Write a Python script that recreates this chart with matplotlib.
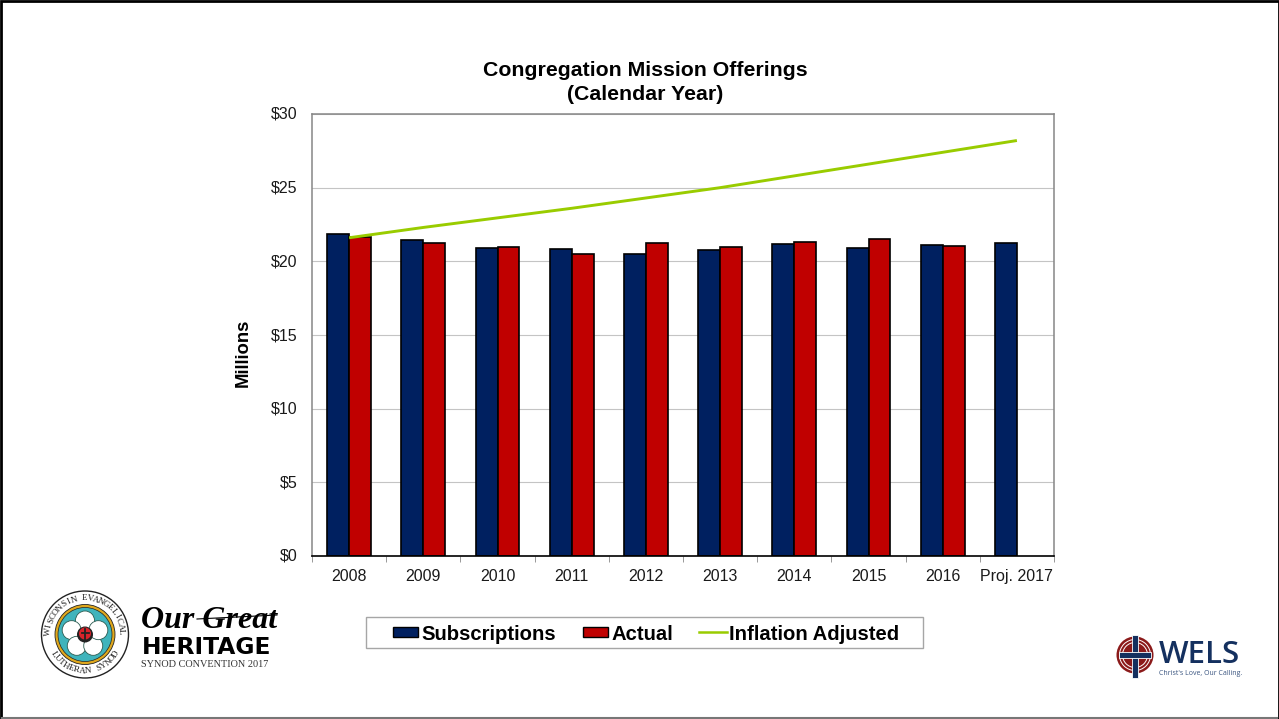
import numpy as np
import matplotlib
matplotlib.use('Agg')
import matplotlib.pyplot as plt
from matplotlib.patches import Rectangle, Circle, Wedge
from matplotlib.lines import Line2D
from matplotlib.transforms import ScaledTranslation

plt.rcParams['font.family'] = ['Liberation Sans', 'DejaVu Sans']

years = ['2008', '2009', '2010', '2011', '2012', '2013', '2014', '2015', '2016', 'Proj. 2017']
subscriptions = [21.85, 21.45, 20.92, 20.85, 20.47, 20.78, 21.2, 20.92, 21.12, 21.22]
actual = [21.62, 21.22, 20.98, 20.5, 21.23, 20.98, 21.28, 21.52, 21.05]
inflation = [21.6, 22.3, 22.95, 23.6, 24.3, 25.0, 25.8, 26.6, 27.4, 28.2]
yticks = [0, 5, 10, 15, 20, 25, 30]

W, H = 1279, 719
NAVY = '#002060'
RED = '#C00000'
GREEN = '#99CC00'
DARK = '#1A1A1A'

fig = plt.figure(figsize=(W / 100, H / 100), dpi=100)

# overlay in pixel coords for slide furniture
bg = fig.add_axes([0, 0, 1, 1])
bg.set_xlim(0, W)
bg.set_ylim(H, 0)
bg.axis('off')
bg.add_patch(Rectangle((0.5, 0.5), W - 1, H - 1, fc='white', ec='black', lw=2))
bg.plot([2, W - 2], [718, 718], color='#777777', lw=1.5)

ax = fig.add_axes([312 / W, 1 - 556 / H, 742 / W, 442 / H])
x = np.arange(len(years))
bw = 0.295
ax.bar(x - bw / 2, subscriptions, bw, color=NAVY, edgecolor='black', lw=1.2, zorder=2)
ax.bar(x[:len(actual)] + bw / 2, actual, bw, color=RED, edgecolor='black', lw=1.2, zorder=2)
ax.plot(x, inflation, color=GREEN, lw=2.1, zorder=3, solid_capstyle='butt')

ax.set_xlim(-0.5, len(years) - 0.5)
ax.set_ylim(0, 30)
ax.set_yticks(yticks)
ax.set_yticklabels(['$%d' % v for v in yticks], fontsize=11.5, color=DARK)
ax.set_xticks(x)
ax.set_xticklabels(years, fontsize=11.5, color=DARK)
ax.set_xticks(np.arange(-0.5, len(years)), minor=True)
ax.tick_params(axis='x', which='major', length=0, pad=9.5)
ax.tick_params(axis='x', which='minor', length=4, color='#888888')
ax.tick_params(axis='y', length=0, pad=10.5)
ax.grid(axis='y', color='#C4C4C4', lw=0.8, zorder=0)
ax.set_axisbelow(True)
for side in ['top', 'left', 'right']:
    ax.spines[side].set_color('#868686')
    ax.spines[side].set_linewidth(1.1)
ax.spines['bottom'].set_color('black')
ax.spines['bottom'].set_linewidth(1.2)

# y labels sit a pixel above their gridlines
nudge = ScaledTranslation(0, 1 / 100, fig.dpi_scale_trans)
for lab in ax.get_yticklabels():
    lab.set_transform(lab.get_transform() + nudge)

bg.text(645, 70.5, 'Congregation Mission Offerings', ha='center', va='center', fontsize=15.3, fontweight='bold')
bg.text(645, 94.5, '(Calendar Year)', ha='center', va='center', fontsize=15.3, fontweight='bold')
bg.text(243, 353, 'Millions', ha='center', va='center', rotation=90, fontsize=13.3, fontweight='bold')

# legend
bg.add_patch(Rectangle((365.5, 616.5), 557, 31, fc='white', ec='#A6A6A6', lw=1))
bg.add_patch(Rectangle((393, 627), 25, 10, fc=NAVY, ec='black', lw=1))
bg.text(421, 634, 'Subscriptions', va='center', fontsize=14.6, fontweight='bold')
bg.add_patch(Rectangle((583, 627), 25, 10, fc=RED, ec='black', lw=1))
bg.text(611, 634, 'Actual', va='center', fontsize=14.6, fontweight='bold')
bg.add_line(Line2D([699, 727], [632, 632], color=GREEN, lw=1.8))
bg.text(729, 634, 'Inflation Adjusted', va='center', fontsize=14.6, fontweight='bold')

# convention seal
cx, cy = 85, 634.5
bg.add_patch(Circle((cx, cy), 43.5, fc='white', ec='#222222', lw=1))
bg.add_patch(Circle((cx, cy), 30, fc='#E0A81C', ec='#222222', lw=0.6))
bg.add_patch(Circle((cx, cy), 27, fc='#3FB4BC', ec='#222222', lw=0.5))
for ang in [90, 162, 234, 306, 18]:
    a = np.radians(ang)
    bg.add_patch(Circle((cx + 14 * np.cos(a), cy - 14 * np.sin(a)), 9.5, fc='white', ec='#2B5B50', lw=0.6))
bg.add_patch(Circle((cx, cy), 8, fc='#222222', ec='none'))
bg.add_patch(Wedge((cx, cy - 1), 6, 0, 360, fc='#D8232A', ec='none'))
bg.plot([cx, cx], [cy - 6, cy + 5], color='#222222', lw=1.3)
bg.plot([cx - 3.5, cx + 3.5], [cy - 2, cy - 2], color='#222222', lw=1.3)


def ring_text(s, start, stop, r, flip=False):
    for ch, deg in zip(s, np.linspace(start, stop, len(s))):
        a = np.radians(deg)
        rot = deg - 90 if not flip else deg + 90
        bg.text(cx + r * np.cos(a), cy - r * np.sin(a), ch, rotation=rot, ha='center', va='center',
                rotation_mode='anchor', fontsize=6.6, family='Liberation Serif', color='#222222')


ring_text('WISCONSIN EVANGELICAL', 176, 4, 36.5)
ring_text('LUTHERAN SYNOD', 212, 328, 36.5, flip=True)

# convention wordmark
bg.text(141, 620, 'Our Great', fontsize=23, style='italic', fontweight='bold', family='Liberation Serif',
        va='center', ha='left')
bg.plot([197, 277], [619, 615], color='black', lw=0.8)
bg.text(142, 647, 'HERITAGE', fontsize=16.8, fontweight='bold', family='DejaVu Sans', va='center', ha='left')
bg.text(141, 664.5, 'SYNOD CONVENTION 2017', fontsize=7.4, family='Liberation Serif', va='center', ha='left',
        color='#333333')

# WELS logo
lx, ly = 1135, 655
bg.add_patch(Circle((lx, ly), 18.5, fc='#8B1A1A', ec='none'))
for r in [15.5, 12.5]:
    bg.add_patch(Circle((lx, ly), r, fc='none', ec='white', lw=0.7))
bg.add_patch(Rectangle((lx - 3, ly - 20), 6, 43, fc='#14305F', ec='white', lw=0.6))
bg.add_patch(Rectangle((lx - 16, ly - 3), 32, 6, fc='#14305F', ec='white', lw=0.6))
bg.text(1159, 655, 'WELS', fontsize=22.5, color='#14305F', family='Open Sans', fontweight='semibold',
        va='center', ha='left')
bg.text(1159, 673.5, "Christ's Love, Our Calling.", fontsize=5, color='#3A5580', family='Open Sans',
        va='center', ha='left')

fig.savefig('out.png', dpi=100)
